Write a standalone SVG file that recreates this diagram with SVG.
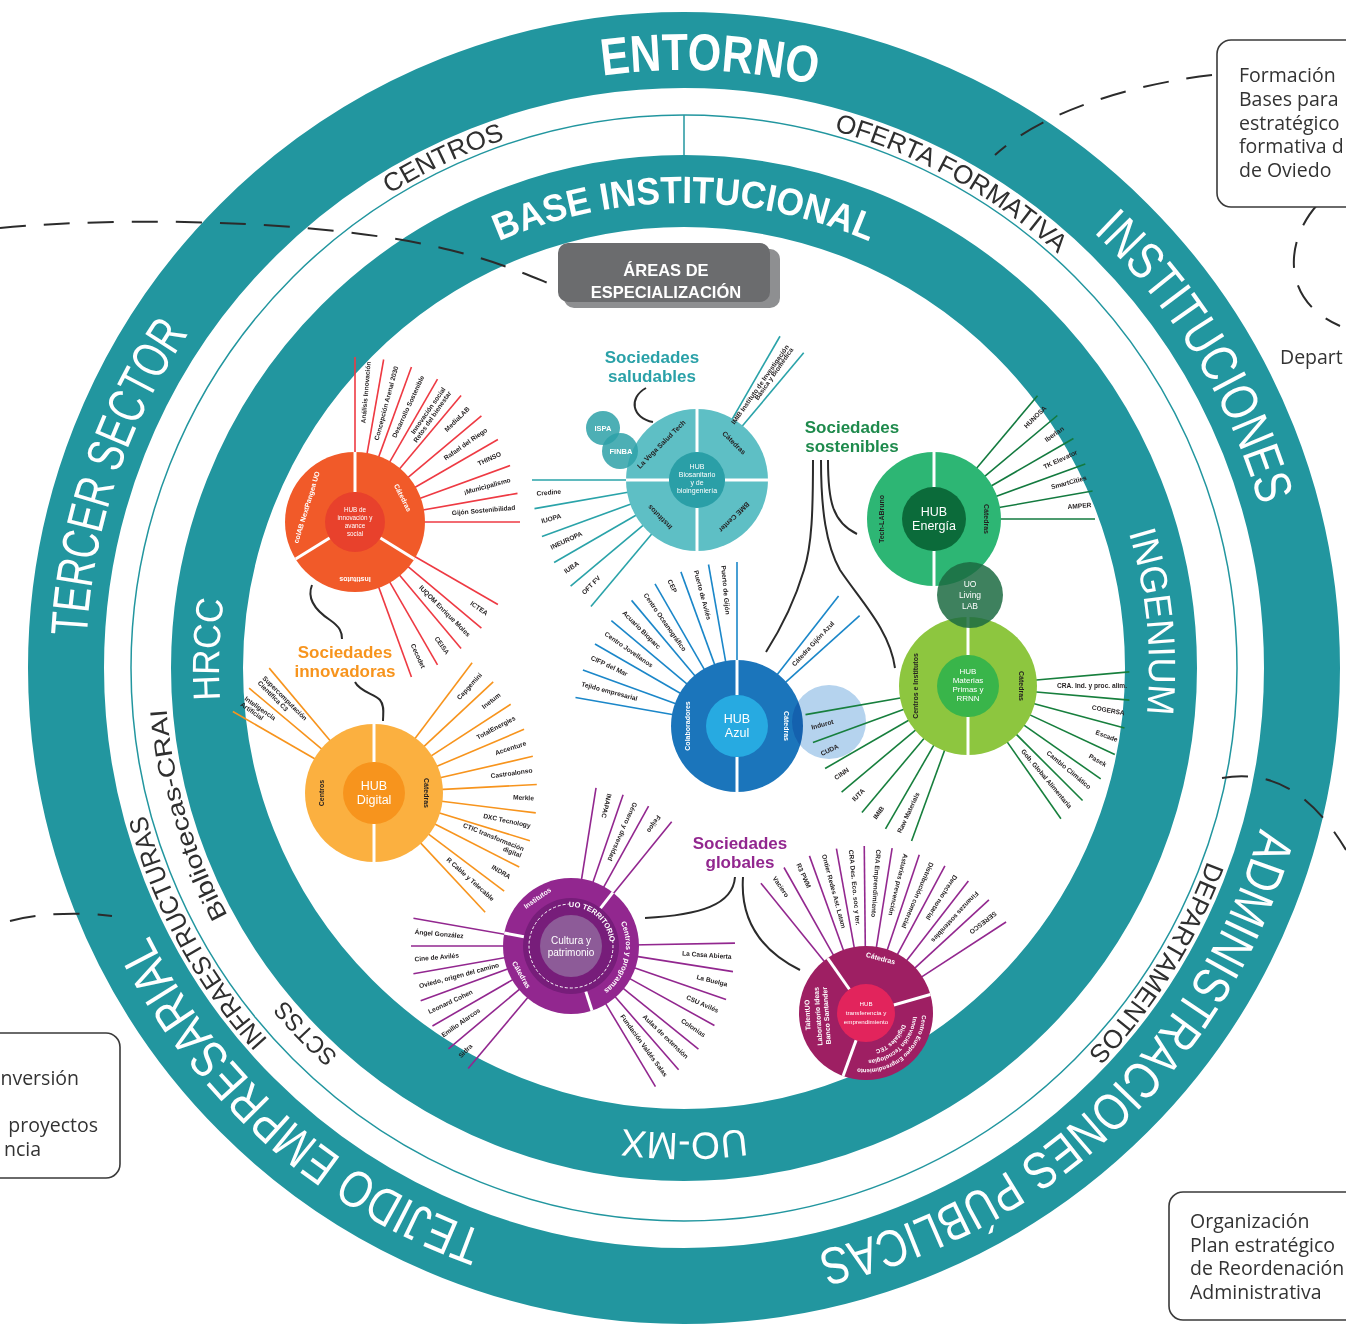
<svg xmlns="http://www.w3.org/2000/svg" width="1346" height="1325" viewBox="0 0 1346 1325">
<defs>
<style>
text{font-family:"Liberation Sans",Arial,sans-serif}
.band{fill:none;stroke:#22969f}
.big{fill:#fff;font-size:52px;text-anchor:middle}
.mid{fill:#fff;font-size:38px;text-anchor:middle}
.gap{fill:#2f2f2f;font-size:26px;text-anchor:middle}
.gap2{fill:#2f2f2f;font-size:24px;text-anchor:middle}
.lb{font-size:6.6px;font-weight:bold;fill:#231f20;dominant-baseline:middle}
.e{text-anchor:end}
.s{text-anchor:start}
.sec{font-size:7px;font-weight:bold;text-anchor:middle;dominant-baseline:middle}
.w{fill:#fff}
.d{fill:#231f20}
.hc{fill:#fff;text-anchor:middle}
.soc{font-size:17px;font-weight:bold;text-anchor:middle}
.sepw{stroke:#fff;stroke-width:3}
.cur{fill:none;stroke:#2b2b2b;stroke-width:2}
.dash{fill:none;stroke:#2b2b2b;stroke-width:2;stroke-dasharray:26 18}
.box{fill:#fff;stroke:#3a3a3a;stroke-width:1.6}
.bt{font-family:"Open Sans",sans-serif;font-size:19.5px;fill:#333}
</style>
<path id="p598a" d="M 1282 668 A 598 598 0 1 1 86 668 A 598 598 0 1 1 1282 668"/>
<path id="p598b" d="M 86 668 A 598 598 0 1 1 1282 668 A 598 598 0 1 1 86 668"/>
<path id="p465a" d="M 1149 668 A 465 465 0 1 1 219 668 A 465 465 0 1 1 1149 668"/>
<path id="p465b" d="M 219 668 A 465 465 0 1 1 1149 668 A 465 465 0 1 1 219 668"/>
<path id="p557a" d="M 1242 668 A 558 558 0 1 1 126 668 A 558 558 0 1 1 1242 668"/>
<path id="p557b" d="M 126 668 A 558 558 0 1 1 1242 668 A 558 558 0 1 1 126 668"/>
<path id="p519a" d="M 1203 668 A 519 519 0 1 1 165 668 A 519 519 0 1 1 1203 668"/>
<path id="c39a" d="M 39 0 A 39 39 0 1 1 -39 0 A 39 39 0 1 1 39 0"/>
<path id="c55b" d="M -55 0 A 55 55 0 1 1 55 0 A 55 55 0 1 1 -55 0"/>
<path id="c56b" d="M -56 0 A 56 56 0 1 1 56 0 A 56 56 0 1 1 -56 0"/>
<path id="c47b" d="M -47 0 A 47 47 0 1 1 47 0 A 47 47 0 1 1 -47 0"/>
<path id="c38b" d="M -38 0 A 38 38 0 1 1 38 0 A 38 38 0 1 1 -38 0"/>
</defs>
<rect width="1346" height="1325" fill="#fff"/>

<g id="rings">
<circle cx="684" cy="668" r="618" class="band" stroke-width="76"/>
<circle cx="684" cy="668" r="553" fill="none" stroke="#22969f" stroke-width="1.5"/>
<line x1="684" y1="115" x2="684" y2="156" stroke="#22969f" stroke-width="1.5"/>
<circle cx="684" cy="668" r="477" class="band" stroke-width="72"/>
<text class="big" font-size="54" font-weight="bold"><textPath href="#p598a" startOffset="2843" textLength="214" lengthAdjust="spacingAndGlyphs">ENTORNO</textPath></text>
<text class="big"><textPath href="#p598b" startOffset="1552" textLength="324" lengthAdjust="spacingAndGlyphs">INSTITUCIONES</textPath></text>
<text class="big"><textPath href="#p598a" startOffset="2072" textLength="324" lengthAdjust="spacingAndGlyphs">TERCER SECTOR</textPath></text>
<text class="big"><textPath href="#p598b" startOffset="2362" textLength="642" lengthAdjust="spacingAndGlyphs">ADMINISTRACIONES PÚBLICAS</textPath></text>
<text class="big"><textPath href="#p598a" startOffset="1372" textLength="459" lengthAdjust="spacingAndGlyphs">TEJIDO EMPRESARIAL</textPath></text>
<text class="mid" font-weight="bold"><textPath href="#p465a" startOffset="2191" textLength="381" lengthAdjust="spacingAndGlyphs">BASE INSTITUCIONAL</textPath></text>
<text class="mid"><textPath href="#p465a" startOffset="1479" textLength="101" lengthAdjust="spacingAndGlyphs">HRCC</textPath></text>
<text class="mid"><textPath href="#p465b" startOffset="1415" textLength="184" lengthAdjust="spacingAndGlyphs">INGENIUM</textPath></text>
<text class="mid"><textPath href="#p465a" startOffset="730" textLength="124" lengthAdjust="spacingAndGlyphs">UO-MX</textPath></text>
<text class="gap"><textPath href="#p557a" startOffset="2383" textLength="128" lengthAdjust="spacingAndGlyphs">CENTROS</textPath></text>
<text class="gap"><textPath href="#p557a" startOffset="2910" textLength="258" lengthAdjust="spacingAndGlyphs">OFERTA FORMATIVA</textPath></text>
<text class="gap"><textPath href="#p557a" startOffset="1475" textLength="258" lengthAdjust="spacingAndGlyphs">INFRAESTRUCTURAS</textPath></text>
<text class="gap"><textPath href="#p557b" startOffset="2064" textLength="228" lengthAdjust="spacingAndGlyphs">DEPARTAMENTOS</textPath></text>
<text class="gap2"><textPath href="#p519a" startOffset="1481" textLength="217" lengthAdjust="spacingAndGlyphs">Bibliotecas-CRAI</textPath></text>
<text class="gap2"><textPath href="#p519a" startOffset="1232" textLength="77" lengthAdjust="spacingAndGlyphs">SCTSS</textPath></text>
</g>

<g id="connectors">
<path class="dash" d="M 0 228 C 150 214, 350 224, 450 250 C 500 262, 530 276, 558 287"/>
<path class="dash" d="M 1212 75 C 1150 82, 1050 105, 995 155"/>
<path class="dash" d="M 1318 204 C 1285 240, 1280 300, 1340 326"/>
<path class="dash" d="M 10 921 C 40 913, 80 912, 112 916"/>
<path class="dash" d="M 1222 778 C 1270 770, 1310 790, 1346 850"/>
<path class="cur" d="M 646 388 C 628 398, 632 418, 653 422"/>
<path class="cur" d="M 312 585 C 306 600, 318 612, 330 620 C 340 627, 342 632, 342 639"/>
<path class="cur" d="M 355 682 C 360 692, 375 694, 380 700 C 385 706, 383 714, 383 721"/>
<path class="cur" d="M 813 460 C 813 510, 812 545, 804 570 C 795 600, 780 630, 766 652"/>
<path class="cur" d="M 821 460 C 821 510, 826 545, 840 570 C 860 600, 890 630, 895 668"/>
<path class="cur" d="M 828 460 C 828 500, 832 522, 857 534"/>
<path class="cur" d="M 735 877 C 733 905, 700 915, 645 918"/>
<path class="cur" d="M 743 877 C 740 920, 760 950, 800 970"/>
</g>

<g id="areas">
<rect x="564" y="249" width="216" height="59" rx="10" fill="#8e8f91"/>
<rect x="558" y="243" width="212" height="59" rx="10" fill="#6b6c6e"/>
<text x="666" y="276" class="hc" font-size="16.5" font-weight="bold">ÁREAS DE</text>
<text x="666" y="298" class="hc" font-size="16.5" font-weight="bold">ESPECIALIZACIÓN</text>
</g>

<g id="titles">
<text x="652" y="363" class="soc" fill="#2aa1a8">Sociedades</text>
<text x="652" y="382" class="soc" fill="#2aa1a8">saludables</text>
<text x="852" y="433" class="soc" fill="#1e8a4c">Sociedades</text>
<text x="852" y="452" class="soc" fill="#1e8a4c">sostenibles</text>
<text x="345" y="658" class="soc" fill="#f7941d">Sociedades</text>
<text x="345" y="677" class="soc" fill="#f7941d">innovadoras</text>
<text x="740" y="849" class="soc" fill="#92278f">Sociedades</text>
<text x="740" y="868" class="soc" fill="#92278f">globales</text>
</g>

<g id="hub-innovacion" transform="translate(355,522)">
<g stroke="#ee3a43" stroke-width="1.6">
<line x1="60" x2="165" transform="rotate(-90)"/><line x1="60" x2="165" transform="rotate(-80)"/><line x1="60" x2="165" transform="rotate(-70)"/><line x1="60" x2="165" transform="rotate(-60)"/><line x1="60" x2="165" transform="rotate(-50)"/><line x1="60" x2="165" transform="rotate(-40)"/><line x1="60" x2="165" transform="rotate(-30)"/><line x1="60" x2="165" transform="rotate(-20)"/><line x1="60" x2="165" transform="rotate(-10)"/><line x1="60" x2="165"/>
<line x1="60" x2="165" transform="rotate(30)"/><line x1="60" x2="165" transform="rotate(40)"/><line x1="60" x2="165" transform="rotate(50)"/><line x1="60" x2="165" transform="rotate(60)"/><line x1="60" x2="165" transform="rotate(70)"/>
</g>
<circle r="70" fill="#f15a29"/>
<circle r="30" fill="#e8412c"/>
<g class="sepw"><line x1="30" x2="70" transform="rotate(-90)"/><line x1="30" x2="70" transform="rotate(148)"/><line x1="30" x2="70" transform="rotate(32)"/></g>
<text class="sec w" transform="rotate(-27) translate(53,0) rotate(90)">Cátedras</text>
<text class="sec w" font-size="6.5" transform="rotate(197) translate(50,0) rotate(90)">colAB NextPangea UO</text>
<text class="sec w" transform="rotate(90) translate(57,0) rotate(90)">Institutos</text>
<text class="hc" font-size="6.3" y="-10">HUB de</text>
<text class="hc" font-size="6.3" y="-2">innovación y</text>
<text class="hc" font-size="6.3" y="6">avance</text>
<text class="hc" font-size="6.3" y="14">social</text>
<text class="lb e" transform="rotate(-85) translate(161,0)">Análisis Innovación</text>
<text class="lb e" transform="rotate(-75) translate(161,0)">Concepción Arenal 2030</text>
<text class="lb e" transform="rotate(-65) translate(161,0)">Desarrollo Sostenible</text>
<text class="lb e" transform="rotate(-55) translate(161,0)" y="-3.5">Innovación social</text>
<text class="lb e" transform="rotate(-55) translate(161,0)" y="3.5">Retos del bienestar</text>
<text class="lb e" transform="rotate(-45) translate(161,0)">MediaLAB</text>
<text class="lb e" transform="rotate(-35) translate(161,0)">Rafael del Riego</text>
<text class="lb e" transform="rotate(-25) translate(161,0)">THINSO</text>
<text class="lb e" transform="rotate(-15) translate(161,0)">¡Municipalismo</text>
<text class="lb e" transform="rotate(-5) translate(161,0)">Gijón Sostenibilidad</text>
<text class="lb e" transform="rotate(35) translate(161,0)">ICTEA</text>
<text class="lb e" transform="rotate(45) translate(161,0)">IUQOM Enrique Moles</text>
<text class="lb e" transform="rotate(55) translate(161,0)">CEISA</text>
<text class="lb e" transform="rotate(65) translate(161,0)">Cecodet</text>
</g>

<g id="hub-biosanitario" transform="translate(697,480)">
<g stroke="#2aa3a9" stroke-width="1.6">
<line x1="60" x2="165" transform="rotate(180)"/><line x1="60" x2="165" transform="rotate(170)"/><line x1="60" x2="165" transform="rotate(160)"/><line x1="60" x2="165" transform="rotate(150)"/><line x1="60" x2="165" transform="rotate(140)"/><line x1="60" x2="165" transform="rotate(130)"/>
<line x1="60" x2="166" transform="rotate(-60)"/><line x1="60" x2="166" transform="rotate(-50)"/>
</g>
<circle r="71" fill="#5ebfc5"/>
<circle r="28" fill="#2a9fa7"/>
<g class="sepw"><line x1="28" x2="71"/><line x1="28" x2="71" transform="rotate(90)"/><line x1="28" x2="71" transform="rotate(180)"/><line x1="28" x2="71" transform="rotate(270)"/></g>
<text class="sec d" transform="rotate(-135) translate(50,0) rotate(90)">La Vega Salud Tech</text>
<text class="sec d" transform="rotate(-45) translate(52,0) rotate(90)">Cátedras</text>
<text class="sec d" transform="rotate(45) translate(52,0) rotate(90)">BME Center</text>
<text class="sec d" transform="rotate(135) translate(52,0) rotate(90)">Institutos</text>
<text class="hc" font-size="7" y="-11">HUB</text>
<text class="hc" font-size="7" y="-3">Biosanitario</text>
<text class="hc" font-size="7" y="5">y de</text>
<text class="hc" font-size="7" y="13">bioingeniería</text>
<text class="lb s" transform="rotate(175) translate(161,0) rotate(180)">Credine</text>
<text class="lb s" transform="rotate(165) translate(161,0) rotate(180)">IUOPA</text>
<text class="lb s" transform="rotate(155) translate(161,0) rotate(180)">INEUROPA</text>
<text class="lb s" transform="rotate(145) translate(161,0) rotate(180)">IUBA</text>
<text class="lb s" transform="rotate(135) translate(161,0) rotate(180)">OFT FV</text>
<text class="lb e" font-size="4.6" transform="rotate(-55) translate(162,0)" y="-2.6">IMIB Instituto de Investigación</text>
<text class="lb e" font-size="4.6" transform="rotate(-55) translate(162,0)" y="2.6">Básica y Biomédica</text>
</g>
<g id="ispa-finba">
<circle cx="603" cy="428" r="17" fill="#2ea1a8" opacity="0.85"/>
<circle cx="620" cy="451" r="18" fill="#2ea1a8" opacity="0.85"/>
<text x="603" y="431" class="hc" font-size="7.5" font-weight="bold">ISPA</text>
<text x="621" y="454" class="hc" font-size="7.5" font-weight="bold">FINBA</text>
</g>

<g id="hub-energia" transform="translate(934,519)">
<g stroke="#137a3f" stroke-width="1.6">
<line x1="60" x2="161" transform="rotate(-50)"/><line x1="60" x2="161" transform="rotate(-40)"/><line x1="60" x2="161" transform="rotate(-30)"/><line x1="60" x2="161" transform="rotate(-20)"/><line x1="60" x2="161" transform="rotate(-10)"/><line x1="60" x2="161"/>
</g>
<circle r="67" fill="#2db674"/>
<circle r="32" fill="#0b6b3a"/>
<g class="sepw"><line x1="32" x2="67" transform="rotate(-90)"/><line x1="32" x2="67" transform="rotate(90)"/></g>
<text class="sec d" transform="rotate(180) translate(52,0) rotate(90)">Tech-LABruno</text>
<text class="sec d" transform="translate(52,0) rotate(90)">Cátedras</text>
<text class="hc" font-size="12.5" y="-3">HUB</text>
<text class="hc" font-size="12.5" y="11">Energía</text>
<text class="lb e" transform="rotate(-45) translate(158,0)">HUNOSA</text>
<text class="lb e" transform="rotate(-35) translate(158,0)">Iberlan</text>
<text class="lb e" transform="rotate(-25) translate(158,0)">TK Elevator</text>
<text class="lb e" transform="rotate(-15) translate(158,0)">SmartCities</text>
<text class="lb e" transform="rotate(-5) translate(158,0)">AMPER</text>
</g>

<g id="hub-azul" transform="translate(737,726)">
<g stroke="#1b87c9" stroke-width="1.6">
<line x1="60" x2="164" transform="rotate(-90)"/><line x1="60" x2="164" transform="rotate(-100)"/><line x1="60" x2="164" transform="rotate(-110)"/><line x1="60" x2="164" transform="rotate(-120)"/><line x1="60" x2="164" transform="rotate(-130)"/><line x1="60" x2="164" transform="rotate(-140)"/><line x1="60" x2="164" transform="rotate(-150)"/><line x1="60" x2="164" transform="rotate(-160)"/><line x1="60" x2="164" transform="rotate(-170)"/>
<line x1="60" x2="165" transform="rotate(-52)"/><line x1="60" x2="165" transform="rotate(-42)"/>
</g>
<circle r="66" fill="#1b75bb"/>
<circle r="31" fill="#27aae1"/>
<g class="sepw"><line x1="31" x2="66" transform="rotate(-90)"/><line x1="31" x2="66" transform="rotate(90)"/></g>
<text class="sec w" font-size="8" transform="rotate(180) translate(49,0) rotate(90)">Colaboradores</text>
<text class="sec w" font-size="8" transform="translate(49,0) rotate(90)">Cátedras</text>
<text class="hc" font-size="12.5" y="-3">HUB</text>
<text class="hc" font-size="12.5" y="11">Azul</text>
<text class="lb s" transform="rotate(-95) translate(161,0) rotate(180)">Puerto de Gijón</text>
<text class="lb s" transform="rotate(-105) translate(161,0) rotate(180)">Puerto de Avilés</text>
<text class="lb s" transform="rotate(-115) translate(161,0) rotate(180)">CEP</text>
<text class="lb s" transform="rotate(-125) translate(161,0) rotate(180)">Centro Oceanográfico</text>
<text class="lb s" transform="rotate(-135) translate(161,0) rotate(180)">Acuario Bioparc</text>
<text class="lb s" transform="rotate(-145) translate(161,0) rotate(180)">Centro Jovellanos</text>
<text class="lb s" transform="rotate(-155) translate(161,0) rotate(180)">CIFP del Mar</text>
<text class="lb s" transform="rotate(-165) translate(161,0) rotate(180)">Tejido empresarial</text>
<text class="lb" text-anchor="middle" transform="rotate(-47) translate(112,0)">Cátedra Gijón Azul</text>
</g>
<circle id="circulo-azul-claro" cx="829" cy="722" r="37" fill="#b5d3ee" style="mix-blend-mode:multiply"/>

<g id="hub-materias" transform="translate(968,686)">
<g stroke="#177f3d" stroke-width="1.6">
<line x1="60" x2="162" transform="rotate(-5)"/><line x1="60" x2="162" transform="rotate(5)"/><line x1="60" x2="162" transform="rotate(15)"/><line x1="60" x2="162" transform="rotate(25)"/><line x1="60" x2="162" transform="rotate(35)"/><line x1="60" x2="162" transform="rotate(45)"/><line x1="60" x2="162" transform="rotate(55)"/>
<line x1="60" x2="165" transform="rotate(110)"/><line x1="60" x2="165" transform="rotate(120)"/><line x1="60" x2="165" transform="rotate(130)"/><line x1="60" x2="165" transform="rotate(140)"/><line x1="60" x2="165" transform="rotate(150)"/><line x1="60" x2="165" transform="rotate(160)"/><line x1="60" x2="165" transform="rotate(170)"/>
</g>
<circle r="69" fill="#8dc63f"/>
<circle r="31" fill="#39b54a"/>
<g class="sepw"><line x1="31" x2="69" transform="rotate(-90)"/><line x1="31" x2="69" transform="rotate(90)"/></g>
<text class="sec d" font-size="6.5" transform="rotate(180) translate(52,0) rotate(90)">Centros e Institutos</text>
<text class="sec d" transform="translate(53,0) rotate(90)">Cátedras</text>
<text class="hc" font-size="8" y="-12">HUB</text>
<text class="hc" font-size="8" y="-3">Materias</text>
<text class="hc" font-size="8" y="6">Primas y</text>
<text class="hc" font-size="8" y="15">RRNN</text>
<text class="lb e" transform="rotate(0) translate(159,0)">CRA. Ind. y proc. alim.</text>
<text class="lb e" transform="rotate(10) translate(159,0)">COGERSA</text>
<text class="lb e" transform="rotate(20) translate(159,0)">Escade</text>
<text class="lb e" transform="rotate(30) translate(159,0)">Pasek</text>
<text class="lb e" transform="rotate(40) translate(159,0)">Cambio Climático</text>
<text class="lb e" transform="rotate(50) translate(159,0)">Gob. Global Alimentaria</text>
<text class="lb s" transform="rotate(165) translate(162,0) rotate(180)">Indurot</text>
<text class="lb s" transform="rotate(155) translate(162,0) rotate(180)">CUDA</text>
<text class="lb s" transform="rotate(145) translate(162,0) rotate(180)">CINN</text>
<text class="lb s" transform="rotate(135) translate(162,0) rotate(180)">IUTA</text>
<text class="lb s" transform="rotate(125) translate(162,0) rotate(180)">IMIB</text>
<text class="lb s" transform="rotate(115) translate(162,0) rotate(180)">Raw Materials</text>
</g>
<g id="living-lab">
<circle cx="970" cy="595" r="33" fill="#1c6b42" opacity="0.85"/>
<text x="970" y="587" class="hc" font-size="8.5">UO</text>
<text x="970" y="598" class="hc" font-size="8.5">Living</text>
<text x="970" y="609" class="hc" font-size="8.5">LAB</text>
</g>

<g id="hub-digital" transform="translate(374,793)">
<g stroke="#f7941d" stroke-width="1.6">
<line x1="60" x2="163" transform="rotate(-53)"/><line x1="60" x2="163" transform="rotate(-43)"/><line x1="60" x2="163" transform="rotate(-33)"/><line x1="60" x2="163" transform="rotate(-23)"/><line x1="60" x2="163" transform="rotate(-13)"/><line x1="60" x2="163" transform="rotate(-3)"/><line x1="60" x2="163" transform="rotate(7)"/><line x1="60" x2="163" transform="rotate(17)"/><line x1="60" x2="163" transform="rotate(27)"/><line x1="60" x2="163" transform="rotate(37)"/><line x1="60" x2="163" transform="rotate(47)"/>
<line x1="60" x2="163" transform="rotate(-130)"/><line x1="60" x2="163" transform="rotate(-140)"/><line x1="60" x2="163" transform="rotate(-150)"/>
</g>
<circle r="69" fill="#fbb040"/>
<circle r="31" fill="#f7941d"/>
<g class="sepw"><line x1="31" x2="69" transform="rotate(-90)"/><line x1="31" x2="69" transform="rotate(90)"/></g>
<text class="sec d" transform="rotate(180) translate(52,0) rotate(90)">Centros</text>
<text class="sec d" transform="translate(52,0) rotate(90)">Cátedras</text>
<text class="hc" font-size="12.5" y="-3">HUB</text>
<text class="hc" font-size="12.5" y="11">Digital</text>
<text class="lb e" transform="rotate(-48) translate(160,0)">Capgemini</text>
<text class="lb e" transform="rotate(-38) translate(160,0)">Inetum</text>
<text class="lb e" transform="rotate(-28) translate(160,0)">TotalEnergies</text>
<text class="lb e" transform="rotate(-18) translate(160,0)">Accenture</text>
<text class="lb e" transform="rotate(-8) translate(160,0)">Castroalonso</text>
<text class="lb e" transform="rotate(2) translate(160,0)">Merkle</text>
<text class="lb e" transform="rotate(12) translate(160,0)">DXC Tecnology</text>
<text class="lb e" transform="rotate(22) translate(160,0)" y="-3.5">CTIC transformación</text>
<text class="lb e" transform="rotate(22) translate(160,0)" y="3.5">digital</text>
<text class="lb e" transform="rotate(32) translate(160,0)">INDRA</text>
<text class="lb e" transform="rotate(42) translate(160,0)">R Cable y Telecable</text>
<text class="lb s" transform="rotate(-135) translate(160,0) rotate(180)" y="-3.5">Supercomputación</text>
<text class="lb s" transform="rotate(-135) translate(160,0) rotate(180)" y="3.5">Científica C3</text>
<text class="lb s" transform="rotate(-145) translate(160,0) rotate(180)" y="-3.5">Inteligencia</text>
<text class="lb s" transform="rotate(-145) translate(160,0) rotate(180)" y="3.5">Artificial</text>
</g>

<g id="hub-cultura" transform="translate(571,946)">
<g stroke="#92278f" stroke-width="1.6">
<line x1="60" x2="160" transform="rotate(190)"/><line x1="60" x2="160" transform="rotate(180)"/><line x1="60" x2="160" transform="rotate(170)"/><line x1="60" x2="160" transform="rotate(160)"/><line x1="60" x2="160" transform="rotate(150)"/><line x1="60" x2="160" transform="rotate(140)"/><line x1="60" x2="160" transform="rotate(130)"/>
<line x1="60" x2="160" transform="rotate(-81)"/><line x1="60" x2="160" transform="rotate(-71)"/><line x1="60" x2="160" transform="rotate(-61)"/><line x1="60" x2="160" transform="rotate(-51)"/>
<line x1="60" x2="164" transform="rotate(-1)"/><line x1="60" x2="164" transform="rotate(9)"/><line x1="60" x2="164" transform="rotate(19)"/><line x1="60" x2="164" transform="rotate(29)"/><line x1="60" x2="164" transform="rotate(39)"/><line x1="60" x2="164" transform="rotate(49)"/><line x1="60" x2="164" transform="rotate(59)"/>
</g>
<circle r="68" fill="#92278f"/>
<circle r="48" fill="#771d7a"/>
<circle r="31" fill="#8d5b98"/>
<path d="M 41.59 -5.85 A 42 42 0 1 1 -1.47 -41.97" fill="none" stroke="#fff" stroke-width="1" stroke-dasharray="3 2"/>
<g class="sepw" stroke-width="2.5"><line x1="48" x2="68" transform="rotate(-52)"/><line x1="48" x2="68" transform="rotate(72)"/><line x1="48" x2="68" transform="rotate(191)"/></g>
<text fill="#fff" font-size="7.5" font-weight="bold" text-anchor="middle"><textPath href="#c39a" startOffset="211">UO TERRITORIO</textPath></text>
<text fill="#fff" font-size="7.5" font-weight="bold" text-anchor="middle"><textPath href="#c55b" startOffset="186">Centros y programas</textPath></text>
<text class="sec w" font-size="7.5" transform="rotate(-125) translate(58,0) rotate(90)">Institutos</text>
<text class="sec w" font-size="7.5" transform="rotate(150) translate(58,0) rotate(-90)">Cátedras</text>
<text class="hc" font-size="10" y="-2">Cultura y</text>
<text class="hc" font-size="10" y="10">patrimonio</text>
<text class="lb s" transform="rotate(185) translate(157,0) rotate(180)">Ángel González</text>
<text class="lb s" transform="rotate(175) translate(157,0) rotate(180)">Cine de Avilés</text>
<text class="lb s" font-size="5.8" transform="rotate(165) translate(157,0) rotate(180)">Oviedo, origen del camino</text>
<text class="lb s" transform="rotate(155) translate(157,0) rotate(180)">Leonard Cohen</text>
<text class="lb s" transform="rotate(145) translate(157,0) rotate(180)">Emilio Alarcos</text>
<text class="lb s" transform="rotate(135) translate(157,0) rotate(180)">Sidra</text>
<text class="lb s" transform="rotate(-76) translate(157,0) rotate(180)">INAPAC</text>
<text class="lb s" transform="rotate(-66) translate(157,0) rotate(180)">Género y diversidad</text>
<text class="lb s" transform="rotate(-56) translate(157,0) rotate(180)">Feijoo</text>
<text class="lb e" transform="rotate(4) translate(161,0)">La Casa Abierta</text>
<text class="lb e" transform="rotate(14) translate(161,0)">La Buelga</text>
<text class="lb e" transform="rotate(24) translate(161,0)">CSU Avilés</text>
<text class="lb e" transform="rotate(34) translate(161,0)">Colonias</text>
<text class="lb e" transform="rotate(44) translate(161,0)">Aulas de extensión</text>
<text class="lb e" transform="rotate(54) translate(161,0)">Fundación Valdés Salas</text>
</g>

<g id="hub-transferencia" transform="translate(866,1013)">
<g stroke="#93288f" stroke-width="1.6">
<line x1="60" x2="167" transform="rotate(-129)"/><line x1="60" x2="167" transform="rotate(-119.4)"/><line x1="60" x2="167" transform="rotate(-109.8)"/><line x1="60" x2="167" transform="rotate(-100.2)"/><line x1="60" x2="167" transform="rotate(-90.6)"/><line x1="60" x2="167" transform="rotate(-81)"/><line x1="60" x2="167" transform="rotate(-71.4)"/><line x1="60" x2="167" transform="rotate(-61.8)"/><line x1="60" x2="167" transform="rotate(-52.2)"/><line x1="60" x2="167" transform="rotate(-42.6)"/><line x1="60" x2="167" transform="rotate(-33)"/>
</g>
<circle r="67" fill="#9e1f63"/>
<circle r="29" fill="#e2245c"/>
<g class="sepw" stroke-width="2.5"><line x1="29" x2="67" transform="rotate(-125)"/><line x1="29" x2="67" transform="rotate(-16)"/><line x1="29" x2="67" transform="rotate(110)"/></g>
<text class="sec w" font-size="8.5" transform="rotate(-75) translate(56,0) rotate(90)">Cátedras</text>
<text class="sec w" font-size="8" transform="rotate(178) translate(58,0) rotate(90)">TalentUO</text>
<text class="sec w" font-size="5.6" transform="rotate(176) translate(47.5,0) rotate(90)">Laboratorio Ideas</text>
<text class="sec w" font-size="5.6" transform="rotate(176) translate(39,0) rotate(90)">Banco Santander</text>
<text fill="#fff" font-size="6" font-weight="bold" text-anchor="middle"><textPath href="#c56b" startOffset="225">Centro Europeo Emprendimiento</textPath></text>
<text fill="#fff" font-size="6" font-weight="bold" text-anchor="middle"><textPath href="#c47b" startOffset="185">Innovación Tecnologías</textPath></text>
<text fill="#fff" font-size="6" font-weight="bold" text-anchor="middle"><textPath href="#c38b" startOffset="150">Digitales TEC</textPath></text>
<text class="hc" font-size="6.2" y="-7">HUB</text>
<text class="hc" font-size="6.2" y="2">transferencia y</text>
<text class="hc" font-size="6.2" y="11">emprendimiento</text>
<text class="lb s" transform="rotate(-124.2) translate(164,0) rotate(180)">Vaciero</text>
<text class="lb s" transform="rotate(-114.6) translate(164,0) rotate(180)">R3 PWM</text>
<text class="lb s" transform="rotate(-105) translate(164,0) rotate(180)">Ontier Redes Ast. Latam</text>
<text class="lb s" transform="rotate(-95.4) translate(164,0) rotate(180)">CRA Des. Eco. soc y ter.</text>
<text class="lb s" transform="rotate(-85.8) translate(164,0) rotate(180)">CRA Emprendimiento</text>
<text class="lb s" transform="rotate(-76.2) translate(164,0) rotate(180)">Asturias prevención</text>
<text class="lb s" transform="rotate(-66.6) translate(164,0) rotate(180)">Distribución comercial</text>
<text class="lb s" transform="rotate(-57) translate(164,0) rotate(180)">Derecho notarial</text>
<text class="lb s" transform="rotate(-47.4) translate(164,0) rotate(180)">Finanzas sostenibles</text>
<text class="lb s" transform="rotate(-37.8) translate(164,0) rotate(180)">SERESCO</text>
</g>

<g id="note-formacion">
<rect x="1217" y="40" width="200" height="167" rx="14" class="box"/>
<text x="1239" y="82" class="bt">Formación</text>
<text x="1239" y="106" class="bt">Bases para</text>
<text x="1239" y="130" class="bt">estratégico</text>
<text x="1239" y="153" class="bt">formativa d</text>
<text x="1239" y="177" class="bt">de Oviedo</text>
</g>
<g id="label-depart"><text x="1280" y="364" class="bt">Depart</text></g>
<g id="note-conversion">
<rect x="-80" y="1033" width="200" height="145" rx="14" class="box"/>
<text x="79" y="1085" class="bt" text-anchor="end">nversión</text>
<text x="98" y="1132" class="bt" text-anchor="end">proyectos</text>
<text x="41" y="1156" class="bt" text-anchor="end">ncia</text>
</g>
<g id="note-organizacion">
<rect x="1169" y="1192" width="200" height="128" rx="14" class="box"/>
<text x="1190" y="1228" class="bt">Organización</text>
<text x="1190" y="1252" class="bt">Plan estratégico</text>
<text x="1190" y="1275" class="bt">de Reordenación</text>
<text x="1190" y="1299" class="bt">Administrativa</text>
</g>
</svg>
